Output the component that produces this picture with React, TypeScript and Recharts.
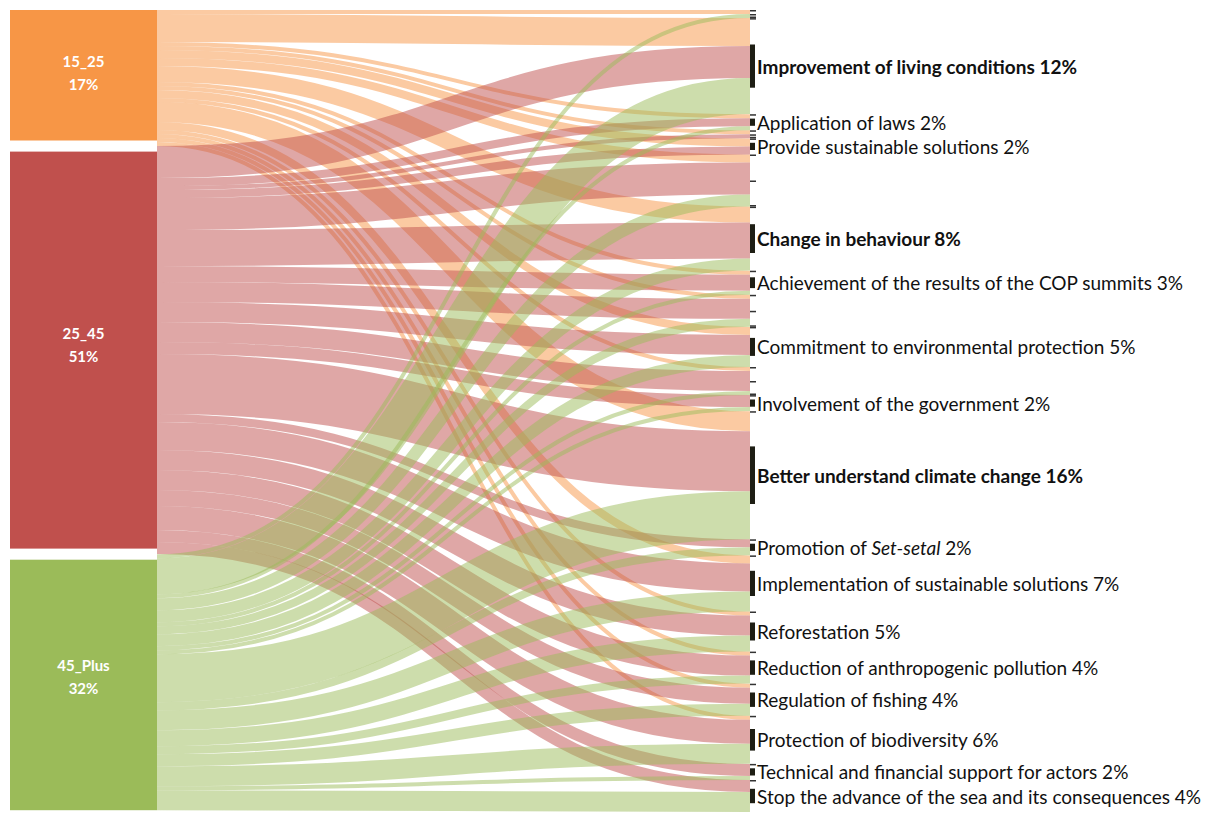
import React from "react";
import { Sankey } from "recharts";

// age groups (left column)
const ageGroups = ["15_25", "25_45", "45_Plus"];
const ageShares = ["17%", "51%", "32%"];
const ageColors = ["#F79646", "#C0504D", "#9BBB59"];

// themes (right column); empty label = small unlabelled answers
const themeKeys = [
  "other_a", "living", "laws", "other_b", "sustainable", "other_c", "behaviour", "cop",
  "other_d", "commitment", "other_e", "government", "understand", "setsetal",
  "implementation", "reforestation", "pollution", "fishing", "biodiversity",
  "support", "sea",
];
const themeLabels = [
  "",
  "Improvement of living conditions 12%",
  "Application of laws 2%",
  "",
  "Provide sustainable solutions 2%",
  "",
  "Change in behaviour 8%",
  "Achievement of the results of the COP summits 3%",
  "",
  "Commitment to environmental protection 5%",
  "",
  "Involvement of the government 2%",
  "Better understand climate change 16%",
  "Promotion of Set-setal 2%",
  "Implementation of sustainable solutions 7%",
  "Reforestation 5%",
  "Reduction of anthropogenic pollution 4%",
  "Regulation of fishing 4%",
  "Protection of biodiversity 6%",
  "Technical and financial support for actors 2%",
  "Stop the advance of the sea and its consequences 4%",
];
const boldThemes = ["living", "behaviour", "understand"];

// share of answers going to each theme, per age group
const from15_25 = [0.5, 3.5, 0.5, 0.5, 1, 1, 2, 0.5, 0.5, 1, 0.5, 0, 2.5, 0, 1, 0.5, 0.5, 0.5, 0.5, 0, 0];
const from25_45 = [0, 4, 1, 0.5, 1, 4, 4.5, 2, 2.5, 2.5, 2.5, 1.5, 7.5, 1, 3.5, 2.5, 2.5, 2, 3, 1.5, 1.5];
const from45Plus = [0.5, 4.5, 0.5, 0, 0, 1.5, 1.5, 0.5, 1, 1.5, 0.5, 0.5, 6, 1, 2.5, 2, 1, 1.5, 2.5, 0.5, 2.5];

const nodes = [
  ...ageGroups.map((name) => ({ name })),
  ...themeKeys.map((name) => ({ name })),
];
const links: { source: number; target: number; value: number }[] = [];
[from15_25, from25_45, from45Plus].forEach((row, s) =>
  row.forEach((value, t) => {
    if (value > 0) links.push({ source: s, target: ageGroups.length + t, value });
  })
);

const FONT = "Lato, Calibri, 'Open Sans', sans-serif";
const BOX_WIDTH = 147;
const BOX_GAP = 5.5;

const renderLabel = (label: string) => {
  const italic = "Set-setal";
  const at = label.indexOf(italic);
  if (at < 0) return label;
  return (
    <>
      {label.slice(0, at)}
      <tspan fontStyle="italic">{italic}</tspan>
      {label.slice(at + italic.length)}
    </>
  );
};

const SankeyNode = (props: any) => {
  const { x, y, width, height, payload } = props;
  const ageIdx = ageGroups.indexOf(payload.name);
  if (ageIdx >= 0) {
    const left = x + width - BOX_WIDTH;
    const cy = y + height / 2;
    const top = ageIdx === 0 ? y : y + BOX_GAP;
    const bottom = ageIdx === ageGroups.length - 1 ? y + height : y + height - BOX_GAP;
    return (
      <g>
        <rect x={left} y={top} width={BOX_WIDTH} height={bottom - top} fill={ageColors[ageIdx]} />
        <text x={left + BOX_WIDTH / 2} y={cy - 17} textAnchor="middle" dominantBaseline="central"
          fill="#fff" fontWeight="bold" fontSize={15} fontFamily={FONT}>
          {payload.name}
        </text>
        <text x={left + BOX_WIDTH / 2} y={cy + 6} textAnchor="middle" dominantBaseline="central"
          fill="#fff" fontWeight="bold" fontSize={15} fontFamily={FONT}>
          {ageShares[ageIdx]}
        </text>
      </g>
    );
  }
  const t = themeKeys.indexOf(payload.name);
  const label = themeLabels[t];
  if (!label) {
    return (
      <g>
        <rect x={x} y={y} width={6} height={1.5} fill="#333" />
        <rect x={x} y={y + height / 2} width={6} height={1.5} fill="#333" />
        <rect x={x} y={y + height - 1.5} width={6} height={1.5} fill="#333" />
      </g>
    );
  }
  const bold = boldThemes.includes(payload.name);
  return (
    <g>
      <rect x={x} y={y} width={6} height={1.5} fill="#333" />
      <rect x={x} y={y + height * 0.275} width={width} height={height * 0.45} fill="#1e1e14" />
      <text x={x + width + 2} y={y + height / 2} dominantBaseline="central" fill="#111"
        fontSize={19} fontWeight={bold ? "bold" : "normal"} fontFamily={FONT}>
        {renderLabel(label)}
      </text>
    </g>
  );
};

const SankeyLink = (props: any) => {
  const { sourceX, sourceY, targetX, targetY, sourceControlX, targetControlX, linkWidth, payload } = props;
  const src = typeof payload.source === "object" ? payload.source.name : ageGroups[payload.source];
  const color = ageColors[ageGroups.indexOf(src)];
  return (
    <path
      d={`M${sourceX},${sourceY}C${sourceControlX},${sourceY} ${targetControlX},${targetY} ${targetX},${targetY}`}
      fill="none"
      stroke={color}
      strokeWidth={linkWidth}
      strokeOpacity={0.5}
    />
  );
};

export default function App() {
  return (
    <div style={{ width: 1208, height: 812, background: "#fff" }}>
      <style>{"body{margin:0;}"}</style>
      <Sankey
        width={1208}
        height={812}
        data={{ nodes, links }}
        node={<SankeyNode />}
        link={<SankeyLink />}
        nodeWidth={5}
        nodePadding={0.1}
        iterations={0}
        sort={false}
        margin={{ top: 10, left: 152, right: 453, bottom: 0 }}
      />
    </div>
  );
}
